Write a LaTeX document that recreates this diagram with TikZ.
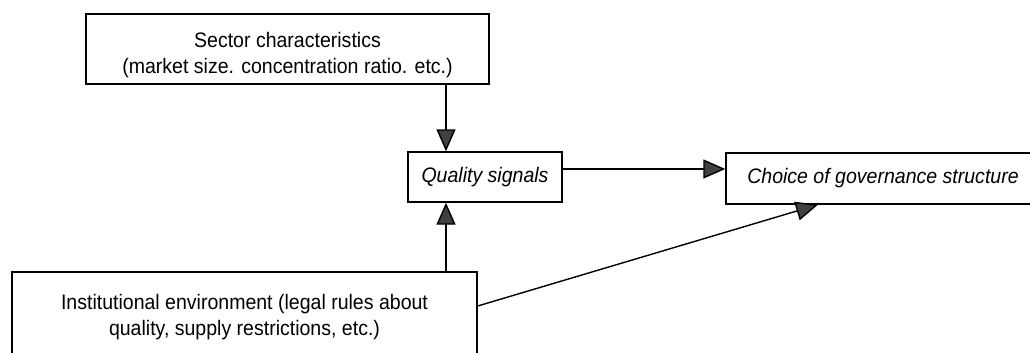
\documentclass[tikz,border=0pt]{standalone}
\usepackage{fontspec}
\setmainfont{Liberation Sans}[FakeStretch=0.93]
\usetikzlibrary{arrows.meta}
\begin{document}
\begin{tikzpicture}[x=1pt,y=-1pt,
  txt/.style={font=\fontsize{21}{25.5}\selectfont, align=center},
  boxst/.style={draw=black, line width=1.4pt, inner sep=0pt, txt},
  arr/.style={line width=1.4pt, -{Triangle[length=22pt,width=19pt,fill=black!75]}}]
\useasboundingbox (0,0) rectangle (1030,353);
\clip (0,0) rectangle (1030,353);
\fill[white] (0,0) rectangle (1030,353);
\node[boxst, minimum width=403pt, minimum height=70pt,
  label={[txt, yshift=-6pt]center:Sector characteristics\\(market size. concentration ratio. etc.)}] (sector) at (287.5,49) {};
\node[boxst, minimum width=154pt, minimum height=50pt, font=\fontsize{21}{25}\selectfont\itshape] (quality) at (485,177) {Quality signals};
\node[boxst, minimum width=314pt, minimum height=51pt, font=\fontsize{21}{25}\selectfont\itshape] (choice) at (883,178.5) {Choice of governance structure};
\node[boxst, minimum width=465pt, minimum height=90pt] (inst) at (244.5,317)
  {Institutional environment (legal rules about\\quality, supply restrictions, etc.)};
\coordinate (ax) at (446,0);
\coordinate (hy) at (0,169);
\coordinate (dy) at (0,306);
\coordinate (tx) at (818,0);
\draw[arr] (sector.south -| ax) -- (quality.north -| ax);
\draw[arr] (quality.east |- hy) -- (choice.west |- hy);
\draw[arr] (inst.north -| ax) -- (quality.south -| ax);
\draw[arr] (inst.east |- dy) -- (choice.south -| tx);
\end{tikzpicture}
\end{document}
